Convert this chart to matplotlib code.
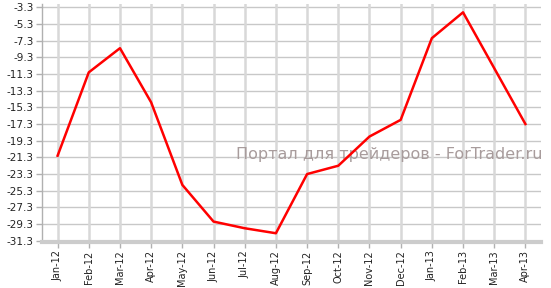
import matplotlib
matplotlib.use("Agg")
import matplotlib.pyplot as plt
import numpy as np

months = ["Jan-12", "Feb-12", "Mar-12", "Apr-12", "May-12", "Jun-12", "Jul-12", "Aug-12",
          "Sep-12", "Oct-12", "Nov-12", "Dec-12", "Jan-13", "Feb-13", "Mar-13", "Apr-13"]
values = [-21.1, -11.1, -8.2, -14.7, -24.6, -29.0, -29.8, -30.4,
          -23.3, -22.3, -18.8, -16.8, -7.0, -3.9, -10.6, -17.3]
yticks = [-31.3 + 2 * i for i in range(15)]
ytick_labels = ["%.1f" % v for v in yticks]
watermark = "Портал для трейдеров - ForTrader.ru"

fig = plt.figure(figsize=(5.51, 2.88), dpi=100)
ax = fig.add_axes([42 / 551, 1 - 242 / 288, (541 - 42) / 551, (242 - 4) / 288])

x = np.arange(len(months))
ax.set_xlim(-0.5, len(months) - 0.5)
ax.set_ylim(-31.45, -2.9)
ax.set_yticks(yticks)
ax.set_yticklabels(ytick_labels)
ax.set_xticks(x)
ax.set_xticklabels(months, rotation=90)

for yv in yticks:
    ax.axhline(yv, color="#c8c8c8", lw=1, zorder=1)
for xv in x:
    ax.axvline(xv, color="#d8d8d8", lw=1.8, zorder=1)

ax.plot(x, values, color="#ff0000", lw=1.8, zorder=3)

ax.text(1.004, 0.366, watermark, transform=ax.transAxes, ha="right", va="center",
        fontsize=11.5, color="#a89c9c", zorder=2, clip_on=False)

for s in ["top", "right"]:
    ax.spines[s].set_visible(False)
ax.spines["left"].set_color("#b0b0b0")
ax.spines["left"].set_linewidth(1)
ax.spines["bottom"].set_color("#cccccc")
ax.spines["bottom"].set_linewidth(3)
ax.tick_params(axis="y", length=4, width=1, color="#b0b0b0", labelsize=7.5, pad=2, labelcolor="#222222")
ax.tick_params(axis="x", length=4, width=1, color="#b0b0b0", labelsize=7, pad=2, labelcolor="#222222")

fig.savefig("out.png", dpi=100)
